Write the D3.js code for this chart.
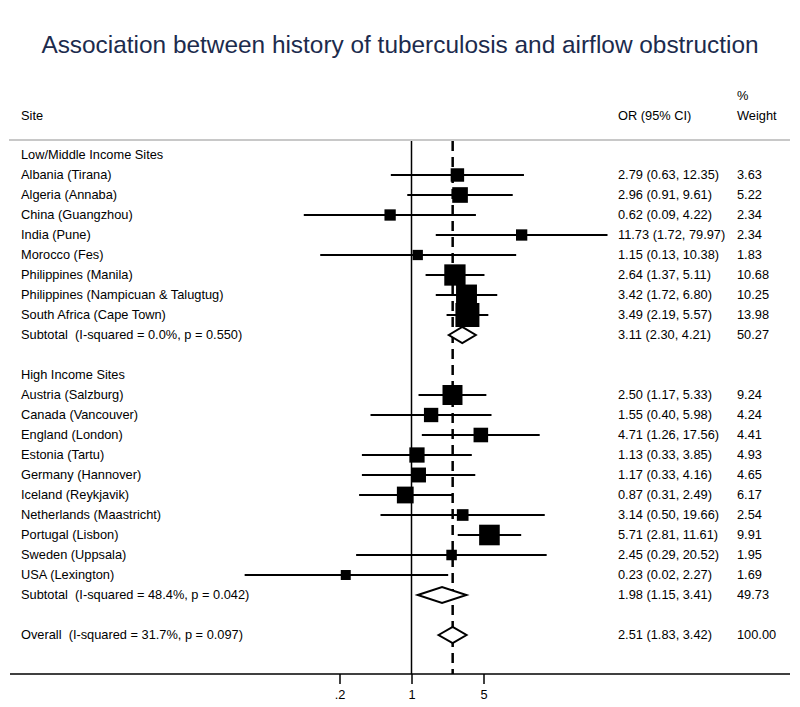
<!DOCTYPE html>
<html>
<head>
<meta charset="utf-8">
<script src="https://cdn.jsdelivr.net/npm/d3@7"></script>
<style>
  body { margin: 0; background: #fff; }
  text { font-family: "Liberation Sans", Arial, sans-serif; fill: #000; white-space: pre; }
</style>
</head>
<body>
<div id="forest"></div>
<script>
// Data
var lowSites = ["Albania (Tirana)", "Algeria (Annaba)", "China (Guangzhou)", "India (Pune)",
  "Morocco (Fes)", "Philippines (Manila)", "Philippines (Nampicuan & Talugtug)", "South Africa (Cape Town)"];
var lowOR = [2.79, 2.96, 0.62, 11.73, 1.15, 2.64, 3.42, 3.49];
var lowLo = [0.63, 0.91, 0.09, 1.72, 0.13, 1.37, 1.72, 2.19];
var lowHi = [12.35, 9.61, 4.22, 79.97, 10.38, 5.11, 6.80, 5.57];
var lowW = [3.63, 5.22, 2.34, 2.34, 1.83, 10.68, 10.25, 13.98];

var highSites = ["Austria (Salzburg)", "Canada (Vancouver)", "England (London)", "Estonia (Tartu)",
  "Germany (Hannover)", "Iceland (Reykjavik)", "Netherlands (Maastricht)", "Portugal (Lisbon)",
  "Sweden (Uppsala)", "USA (Lexington)"];
var highOR = [2.50, 1.55, 4.71, 1.13, 1.17, 0.87, 3.14, 5.71, 2.45, 0.23];
var highLo = [1.17, 0.40, 1.26, 0.33, 0.33, 0.31, 0.50, 2.81, 0.29, 0.024];
var highHi = [5.33, 5.98, 17.56, 3.85, 4.16, 2.49, 19.66, 11.61, 20.52, 2.27];
var highW = [9.24, 4.24, 4.41, 4.93, 4.65, 6.17, 2.54, 9.91, 1.95, 1.69];

var pooledLabels = ["Subtotal  (I-squared = 0.0%, p = 0.550)",
  "Subtotal  (I-squared = 48.4%, p = 0.042)",
  "Overall  (I-squared = 31.7%, p = 0.097)"];
var pooledOR = [3.11, 1.98, 2.51];
var pooledLo = [2.30, 1.15, 1.83];
var pooledHi = [4.21, 3.41, 3.42];
var pooledW = [50.27, 49.73, 100.00];

var groupHeaders = ["Low/Middle Income Sites", "High Income Sites"];
var tickValues = [0.2, 1, 5];
var tickLabels = [".2", "1", "5"];

// Build row list
var rows = [];
rows.push({type: "header", label: groupHeaders[0]});
lowSites.forEach(function(s, i) {
  rows.push({type: "study", label: s, or: lowOR[i], lo: lowLo[i], hi: lowHi[i], w: lowW[i]});
});
rows.push({type: "pooled", label: pooledLabels[0], or: pooledOR[0], lo: pooledLo[0], hi: pooledHi[0], w: pooledW[0]});
rows.push({type: "blank"});
rows.push({type: "header", label: groupHeaders[1]});
highSites.forEach(function(s, i) {
  rows.push({type: "study", label: s, or: highOR[i], lo: highLo[i], hi: highHi[i], w: highW[i]});
});
rows.push({type: "pooled", label: pooledLabels[1], or: pooledOR[1], lo: pooledLo[1], hi: pooledHi[1], w: pooledW[1]});
rows.push({type: "blank"});
rows.push({type: "pooled", label: pooledLabels[2], or: pooledOR[2], lo: pooledLo[2], hi: pooledHi[2], w: pooledW[2]});

var svgWidth = 800;
var svgHeight = 707;

var svg = d3.select("#forest")
  .append("svg")
  .attr("width", svgWidth)
  .attr("height", svgHeight);

// Scales
var xScale = d3.scaleLog()
  .domain([0.2, 5])
  .range([339.5, 483.5]);

var yScale = d3.scaleLinear()
  .domain([0, rows.length - 1])
  .range([155, 155 + 20 * (rows.length - 1)]);

var allW = lowW.concat(highW);
var sizeScale = d3.scaleSqrt()
  .domain([0, d3.max(allW)])
  .range([0, 21.5]);

var plotTop = 140;
var axisY = 674;
var fontSize = "12.8px";

// Title
svg.append("text")
  .attr("x", 400)
  .attr("y", 53)
  .attr("text-anchor", "middle")
  .style("font-size", "24.4px")
  .style("fill", "#1c2b4d")
  .text("Association between history of tuberculosis and airflow obstruction");

// Column headers
var hdr = svg.append("g").style("font-size", fontSize);
hdr.append("text").attr("x", 21).attr("y", 120).text("Site");
hdr.append("text").attr("x", 618).attr("y", 120).text("OR (95% CI)");
hdr.append("text").attr("x", 737).attr("y", 100).text("%");
hdr.append("text").attr("x", 737).attr("y", 120).text("Weight");

// Gray rule
svg.append("line")
  .attr("x1", 9).attr("x2", 790)
  .attr("y1", plotTop).attr("y2", plotTop)
  .attr("stroke", "#c8c8c8")
  .attr("stroke-width", 2);

// Null line at OR = 1
svg.append("line")
  .attr("x1", xScale(1)).attr("x2", xScale(1))
  .attr("y1", plotTop + 1).attr("y2", axisY)
  .attr("stroke", "#000")
  .attr("stroke-width", 1.5);

// Overall effect dashed line
svg.append("line")
  .attr("x1", xScale(pooledOR[2])).attr("x2", xScale(pooledOR[2]))
  .attr("y1", plotTop + 1).attr("y2", axisY)
  .attr("stroke", "#000")
  .attr("stroke-width", 2.5)
  .attr("stroke-dasharray", "10,6");

// Study rows
var studies = rows.map(function(r, i) { r.i = i; return r; });

var studyRows = studies.filter(function(r) { return r.type === "study"; });

svg.selectAll("line.ci")
  .data(studyRows)
  .enter()
  .append("line")
  .attr("class", "ci")
  .attr("x1", d => xScale(d.lo))
  .attr("x2", d => xScale(d.hi))
  .attr("y1", d => yScale(d.i))
  .attr("y2", d => yScale(d.i))
  .attr("stroke", "#000")
  .attr("stroke-width", 2);

svg.selectAll("rect.box")
  .data(studyRows)
  .enter()
  .append("rect")
  .attr("class", "box")
  .attr("x", d => xScale(d.or) - (sizeScale(d.w) + 2.5) / 2)
  .attr("y", d => yScale(d.i) - (sizeScale(d.w) + 2.5) / 2)
  .attr("width", d => sizeScale(d.w) + 2.5)
  .attr("height", d => sizeScale(d.w) + 2.5)
  .attr("fill", "#000");

// Pooled diamonds
var pooledRows = studies.filter(function(r) { return r.type === "pooled"; });

svg.selectAll("path.diamond")
  .data(pooledRows)
  .enter()
  .append("path")
  .attr("class", "diamond")
  .attr("d", function(d) {
    var y = yScale(d.i);
    return "M" + xScale(d.lo) + "," + y +
      "L" + xScale(d.or) + "," + (y - 8) +
      "L" + xScale(d.hi) + "," + y +
      "L" + xScale(d.or) + "," + (y + 8) + "Z";
  })
  .attr("fill", "#fff")
  .attr("stroke", "#000")
  .attr("stroke-width", 2);

// Row text
var textRows = studies.filter(function(r) { return r.type !== "blank"; });
var txt = svg.append("g").style("font-size", fontSize);

txt.selectAll("text.site")
  .data(textRows)
  .enter()
  .append("text")
  .attr("class", "site")
  .attr("x", 21)
  .attr("y", d => yScale(d.i))
  .attr("dy", "0.35em")
  .text(d => d.label);

var valueRows = textRows.filter(function(r) { return r.type !== "header"; });

txt.selectAll("text.or")
  .data(valueRows)
  .enter()
  .append("text")
  .attr("class", "or")
  .attr("x", 618)
  .attr("y", d => yScale(d.i))
  .attr("dy", "0.35em")
  .text(d => d.or.toFixed(2) + " (" + d.lo.toFixed(2) + ", " + d.hi.toFixed(2) + ")");

txt.selectAll("text.wt")
  .data(valueRows)
  .enter()
  .append("text")
  .attr("class", "wt")
  .attr("x", 737)
  .attr("y", d => yScale(d.i))
  .attr("dy", "0.35em")
  .text(d => d.w.toFixed(2));

// X axis
svg.append("line")
  .attr("x1", 10).attr("x2", 790)
  .attr("y1", axisY).attr("y2", axisY)
  .attr("stroke", "#000")
  .attr("stroke-width", 1.5);

var bottomAxis = d3.axisBottom(xScale)
  .tickValues(tickValues)
  .tickFormat(function(d, i) { return tickLabels[i]; })
  .tickSize(10)
  .tickPadding(6);

var axisG = svg.append("g")
  .attr("transform", `translate(0, ${axisY})`)
  .call(bottomAxis);

axisG.select(".domain").remove();
axisG.selectAll(".tick line").attr("stroke-width", 1.5);
axisG.selectAll(".tick text")
  .style("font-family", "'Liberation Sans', Arial, sans-serif")
  .style("font-size", fontSize);
</script>
</body>
</html>
